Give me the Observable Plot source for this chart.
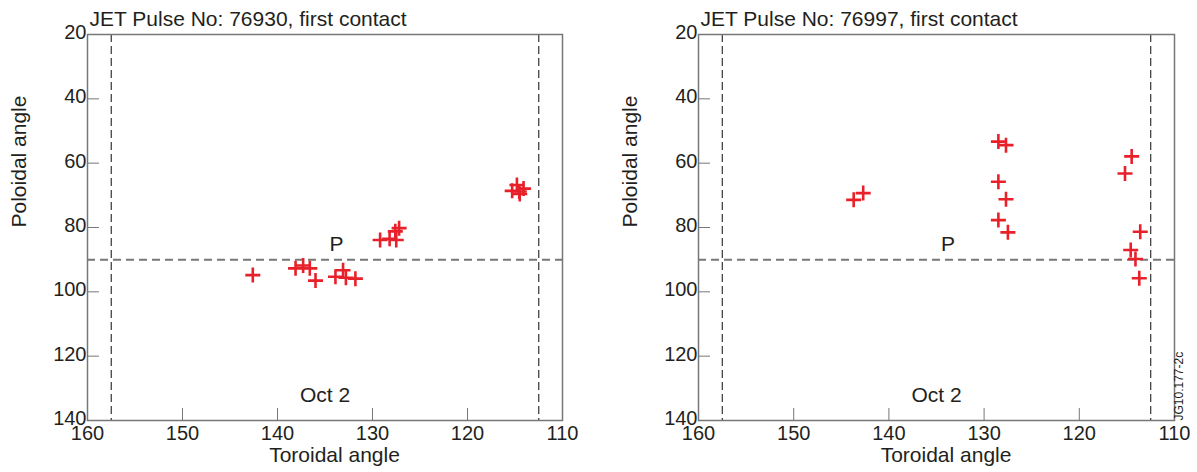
<!DOCTYPE html>
<html>
<head>
<meta charset="utf-8">
<script src="https://cdn.jsdelivr.net/npm/d3@7"></script>
<script src="https://cdn.jsdelivr.net/npm/@observablehq/plot@0.6"></script>
<style>
  html, body { margin: 0; padding: 0; background: #fff; }
  #wrap { display: flex; width: 1197px; height: 472px; }
</style>
</head>
<body>
<div id="wrap"></div>
<script>
// ---- data ----
const titles = ["JET Pulse No: 76930, first contact", "JET Pulse No: 76997, first contact"];
const xTicks = [160, 150, 140, 130, 120, 110];
const yTicks = [20, 40, 60, 80, 100, 120, 140];
const xLabel = "Toroidal angle";
const yLabel = "Poloidal angle";

// Pulse 76930
const tor1 = [142.6, 138.1, 137.3, 136.6, 136.0, 133.9, 133.1, 132.8, 131.8, 129.2, 128.2, 127.5, 127.6, 127.2, 115.3, 114.8, 114.55, 114.1, 114.5];
const pol1 = [94.8, 92.7, 91.8, 92.7, 96.5, 95.3, 93.3, 95.6, 95.9, 83.9, 83.5, 83.9, 81.2, 80.2, 68.6, 66.8, 68.8, 67.9, 69.6];
// Pulse 76997
const tor2 = [143.7, 142.7, 128.5, 127.7, 128.5, 127.7, 128.5, 127.5, 114.5, 115.2, 113.6, 114.6, 114.1, 113.7];
const pol2 = [71.4, 69.3, 53.3, 54.4, 65.8, 71.2, 77.7, 81.5, 57.9, 63.2, 81.3, 87.0, 89.8, 95.8];

const limiterTor = [157.5, 112.5];
const midplanePol = [90];
const pLabel = [{x: 133.8, y: 85.2, t: "P"}];
const dateLabel = [{x: 135, y: 132.2, t: "Oct 2"}];
const codeLabel = "JG10.177-2c";

// ---- drawing ----
const cross = {
  draw(ctx, size) {
    const a = Math.sqrt(size / Math.PI);
    ctx.moveTo(-a, 0); ctx.lineTo(a, 0);
    ctx.moveTo(0, -a); ctx.lineTo(0, a);
  }
};

const FONT = "'Liberation Sans', Arial, Helvetica, sans-serif";
const TXT = "#231f20";

function panel(tor, pol, title, opts) {
  const pts = tor.map((x, i) => ({x, y: pol[i]}));
  const marks = [
    Plot.ruleX(limiterTor, {stroke: "#333", strokeWidth: 1.2, strokeDasharray: "8,4"}),
    Plot.ruleY(midplanePol, {stroke: "#777", strokeWidth: 2, strokeDasharray: "8,5"}),
    Plot.frame({stroke: "#777", strokeWidth: 1.5}),
    Plot.axisX(xTicks, {tickSize: -12, tickPadding: 17, stroke: "#777", fill: TXT, fontSize: 20, label: null}),
    // y ticks (inward) and y tick labels drawn separately
    Plot.axisY(yTicks, {tickSize: -12, stroke: "#777", fill: "none", label: null}),
    Plot.axisY(yTicks, {tickSize: 0, tickPadding: 1, dy: -2, stroke: "none", fill: TXT, fontSize: 20, label: null}),
    Plot.dot(pts, {x: "x", y: "y", symbol: cross, r: 7.5, stroke: "#e8202a", strokeWidth: 2.6, fill: "none"}),
    Plot.text(pLabel, {x: "x", y: "y", text: "t", fontSize: 21, fill: TXT}),
    Plot.text(dateLabel, {x: "x", y: "y", text: "t", fontSize: 21, fill: TXT}),
    Plot.text([title], {frameAnchor: "top-left", dx: 2, dy: -9, lineAnchor: "bottom", textAnchor: "start", fontSize: 21, fill: TXT}),
    Plot.text([xLabel], {x: [134], frameAnchor: "bottom", dy: 41, fontSize: 21, fill: TXT}),
    Plot.text([yLabel], {frameAnchor: "left", dx: -68, rotate: -90, fontSize: 21, fill: TXT})
  ];
  if (opts.code) {
    marks.push(Plot.text([codeLabel], {frameAnchor: "bottom-right", dx: 8, rotate: -90, textAnchor: "start", fontSize: 12, fill: TXT}));
  }
  return Plot.plot({
    width: opts.width,
    height: 472,
    marginLeft: opts.ml,
    marginRight: opts.mr,
    marginTop: 34,
    marginBottom: 52,
    style: {fontFamily: FONT, color: TXT, background: "#fff", overflow: "visible"},
    x: {domain: [160, 110]},
    y: {domain: [20, 140], reverse: true},
    marks
  });
}

const wrap = document.getElementById("wrap");
wrap.appendChild(panel(tor1, pol1, titles[0], {width: 599, ml: 87, mr: 37}));
wrap.appendChild(panel(tor2, pol2, titles[1], {width: 598, ml: 99, mr: 23, code: true}));
</script>
</body>
</html>
